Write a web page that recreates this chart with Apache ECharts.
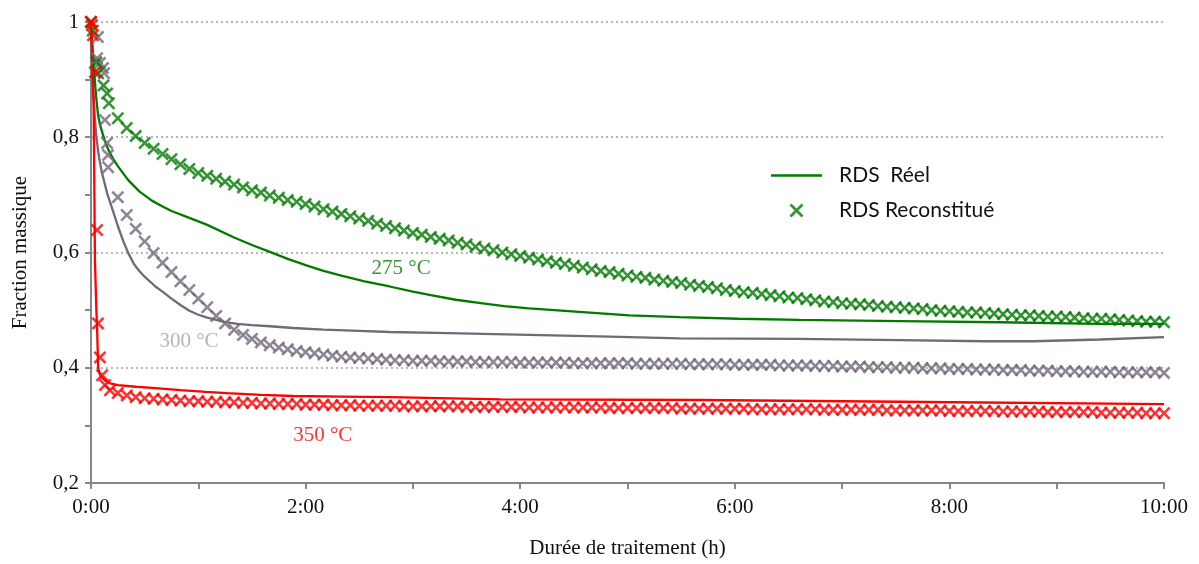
<!DOCTYPE html>
<html><head><meta charset="utf-8">
<script src="https://cdn.jsdelivr.net/npm/echarts@6/dist/echarts.min.js"></script>
<style>html,body{margin:0;padding:0;background:#fff}#c{width:1199px;height:564px}</style>
</head><body><div id="c"></div>
<script>
// ---- data ----
const xTickHours = [0, 2, 4, 6, 8, 10];
const yTickValues = [0.2, 0.4, 0.6, 0.8, 1];
const legendNames = ['RDS  Réel', 'RDS Reconstitué'];
const curveLabels = ['275 °C', '300 °C', '350 °C'];
const curveLabelAt = [[2.89, 0.573], [0.913, 0.446], [2.16, 0.283]];

// measured (reconstituted) points: early irregular points [minutes, value]
const greenEarly = [[0,1.0],[1,0.985],[3,0.93],[4,0.911],[7,0.89],[9,0.876],[10,0.859]];
const grayEarly  = [[0,1.0],[3.9,0.974],[3.4,0.937],[5,0.929],[6.7,0.92],[7.3,0.911],[7.8,0.83],[9,0.79],[9.5,0.769],[9.6,0.748]];
const redEarly   = [[0,1.0],[0.5,0.995],[1.1,0.977],[2.2,0.913],[3.4,0.639],[3.9,0.477],[5,0.418],[6.2,0.387],[7.8,0.37],[10.6,0.361]];

// regular sampling every 5 min from 15 to 600 min
const greenRecon = [
 .833,.816,.802,.790,.780,.771,.762,.753,.745,.738,
 .733,.728,.723,.718,.713,.708,.704,.699,.695,.691,.688,.684,
 .680,.675,.671,.667,.663,.659,.655,.650,.646,.642,.638,.634,
 .631,.627,.624,.621,.617,.614,.610,.607,.604,.600,.597,.594,
 .591,.588,.585,.582,.580,.577,.574,.571,.568,.566,.563,.560,
 .558,.556,.553,.551,.549,.547,.544,.542,.540,.538,.535,.533,
 .531,.530,.528,.526,.524,.522,.521,.519,.517,.515,.514,.512,
 .511,.510,.509,.507,.506,.505,.504,.503,.502,.500,.499,.498,
 .497,.496,.496,.495,.494,.493,.492,.491,.491,.490,.489,.489,
 .488,.487,.486,.485,.485,.484,.483,.482,.481,.480,.480,.479];
const grayRecon = [
 .696,.665,.641,.619,.599,.582,.566,.550,.535,.520,
 .505,.490,.477,.466,.457,.450,.444,.439,.435,.432,.429,.427,
 .425,.423,.421,.419,.418,.417,.416,.415,.414,.413,.413,.412,
 .412,.412,.411,.411,.411,.411,.410,.410,.410,.410,.410,.409,
 .409,.409,.409,.409,.409,.408,.408,.408,.408,.408,.408,.408,
 .407,.407,.407,.407,.407,.407,.406,.406,.406,.406,.406,.405,
 .405,.405,.405,.405,.404,.404,.404,.404,.403,.403,.403,.402,
 .402,.402,.401,.401,.401,.400,.400,.400,.399,.399,.399,.398,
 .398,.398,.397,.397,.397,.396,.396,.396,.395,.395,.395,.394,
 .394,.394,.393,.393,.393,.393,.392,.392,.392,.392,.392,.391];
const redRecon = [
 .356,.352,.349,.347,.346,.345,.344,.343,.342,.342,
 .341,.341,.340,.340,.339,.339,.338,.338,.337,.337,.337,.336,
 .336,.336,.335,.335,.335,.334,.334,.334,.334,.334,.333,.333,
 .333,.333,.333,.333,.333,.332,.332,.332,.332,.332,.332,.332,
 .331,.331,.331,.331,.331,.331,.331,.331,.331,.330,.330,.330,
 .330,.330,.330,.330,.330,.329,.329,.329,.329,.329,.329,.329,
 .329,.328,.328,.328,.328,.328,.328,.328,.328,.327,.327,.327,
 .327,.327,.327,.327,.326,.326,.326,.326,.326,.326,.326,.325,
 .325,.325,.325,.325,.325,.324,.324,.324,.324,.324,.323,.323,
 .323,.323,.323,.323,.322,.322,.322,.322,.322,.321,.321,.321];

// real curves [minutes, value]
const greenReal = [[0,1.0],[0.5,0.975],[1,0.95],[1.5,0.922],[2.2,0.896],[3,0.866],[3.9,0.84],[5,0.822],[6.7,0.804],[8.3,0.789],[10,0.776],[12.5,0.762],[15,0.75],[20.7,0.726],[27,0.706],[34,0.69],[40,0.68],[45,0.672],[55,0.66],[65,0.648],[80,0.626],[90,0.613],[100,0.601],[110,0.589],[120,0.578],[130,0.568],[140,0.56],[153,0.55],[167,0.541],[180,0.532],[190,0.526],[204,0.518],[218,0.512],[231,0.507],[245,0.503],[259,0.5],[273,0.497],[287,0.494],[301,0.491],[329,0.488],[362,0.485],[396,0.483],[452,0.481],[508,0.479],[564,0.476],[600,0.476]];
const grayReal = [[0,1.0],[0.5,0.95],[1,0.9],[2,0.84],[3,0.80],[4.5,0.765],[6,0.74],[9,0.703],[12,0.675],[15,0.646],[18,0.62],[21,0.598],[24,0.58],[27,0.568],[30,0.558],[36,0.541],[40,0.532],[45,0.52],[50,0.509],[55,0.499],[60,0.492],[65,0.487],[70,0.483],[75,0.479],[82,0.476],[90,0.474],[100,0.472],[113,0.469],[130,0.466],[150,0.464],[167,0.462],[200,0.46],[245,0.457],[290,0.454],[329,0.451],[396,0.45],[452,0.448],[500,0.446],[527,0.446],[564,0.449],[600,0.453]];
const redReal = [[0,1.0],[1.5,0.85],[2.2,0.587],[3,0.5],[3.4,0.47],[4,0.40],[4.8,0.39],[5.5,0.385],[7.8,0.378],[10.6,0.373],[15,0.37],[25,0.367],[34,0.365],[50,0.361],[64,0.358],[76,0.356],[95,0.353],[113,0.351],[140,0.35],[167,0.349],[229,0.345],[340,0.344],[452,0.341],[600,0.337]];

// ---- build ----
const sampleMinutes = [];
for (let m = 15; m <= 600; m += 5) sampleMinutes.push(m);
const toH = arr => arr.map(p => [p[0] / 60, p[1]]);
const recon = (early, vals) => toH(early.concat(vals.map((v, i) => [sampleMinutes[i], v])));

const GREEN = '#007a00', GRAY = '#736878', RED = '#ff0000', AXIS = '#878787';
const XSYM = 'path://M0,2.8 L2.8,0 L10,7.2 L17.2,0 L20,2.8 L12.8,10 L20,17.2 L17.2,20 L10,12.8 L2.8,20 L0,17.2 L7.2,10 Z';
const LINEICON = 'path://M0,0 H51 V2.4 H0 Z';
const SERIF = '"Liberation Serif", "DejaVu Serif", serif';

function lineS(name, data, color) {
  return { name, type: 'line', data: toH(data), smooth: false,
    symbol: 'none', showSymbol: false, lineStyle: { color, width: 2.3 }, itemStyle: { color }, z: 2 };
}
function scatS(name, data, color) {
  return { name, type: 'scatter', data, symbol: XSYM, symbolSize: 13,
    itemStyle: { color }, z: 3 };
}
const labelColors = [GREEN, '#a69fab', RED];

const chart = echarts.init(document.getElementById('c'));
chart.setOption({
  animation: false,
  grid: { left: 91, right: 35, top: 22, bottom: 81, containLabel: false, outerBoundsMode: 'none' },
  legend: {
    data: [{ name: legendNames[0], icon: LINEICON, itemStyle: { color: GREEN } },
           { name: legendNames[1], icon: XSYM }],
    orient: 'vertical', left: 766, top: 160, symbolKeepAspect: true,
    itemWidth: 51, itemHeight: 14, itemGap: 14,
    textStyle: { fontFamily: 'Lato, "Open Sans", sans-serif', fontSize: 21, color: '#111', padding: [0, 0, 0, 12] }
  },
  xAxis: {
    type: 'value', min: xTickHours[0], max: xTickHours[xTickHours.length - 1], interval: 2,
    name: 'Durée de traitement (h)', nameLocation: 'middle', nameGap: 55,
    nameTextStyle: { fontFamily: SERIF, fontSize: 21, color: '#111' },
    axisLine: { lineStyle: { color: AXIS, width: 2 } },
    axisTick: { show: true, length: 6, lineStyle: { color: AXIS, width: 2 } },
    minorTick: { show: true, splitNumber: 2, length: 6, lineStyle: { color: AXIS, width: 2 } },
    splitLine: { show: false },
    axisLabel: { margin: 14, fontFamily: SERIF, fontSize: 21, color: '#111', formatter: v => v + ':00' }
  },
  yAxis: {
    type: 'value', min: yTickValues[0], max: yTickValues[yTickValues.length - 1], interval: 0.2,
    name: 'Fraction massique', nameLocation: 'middle', nameGap: 60,
    nameTextStyle: { fontFamily: SERIF, fontSize: 21, color: '#111' },
    axisLine: { show: true, lineStyle: { color: AXIS, width: 2 } },
    axisTick: { show: true, length: 6, lineStyle: { color: AXIS, width: 2 } },
    minorTick: { show: true, splitNumber: 2, length: 6, lineStyle: { color: AXIS, width: 2 } },
    splitLine: { show: true, lineStyle: { color: '#a0a0a0', width: 1.5, type: [2, 3] } },
    axisLabel: { margin: 12, fontFamily: SERIF, fontSize: 21, color: '#111',
      formatter: v => String(Math.round(v * 10) / 10).replace('.', ',') }
  },
  series: [
    lineS('300 °C réel', grayReal, GRAY),
    scatS('300 °C reconstitué', recon(grayEarly, grayRecon), GRAY),
    lineS('RDS  Réel', greenReal, GREEN),
    scatS('RDS Reconstitué', recon(greenEarly, greenRecon), GREEN),
    lineS('350 °C réel', redReal, RED),
    scatS('350 °C reconstitué', recon(redEarly, redRecon), RED),
    { name: 'labels', type: 'scatter', symbolSize: 0, z: 5, silent: true,
      itemStyle: { color: 'transparent' },
      data: curveLabels.map((t, i) => ({ name: t, value: curveLabelAt[i],
        label: { show: true, position: 'inside', formatter: '{b}', color: labelColors[i],
          fontFamily: SERIF, fontSize: 21 } })) }
  ]
});
</script></body></html>
